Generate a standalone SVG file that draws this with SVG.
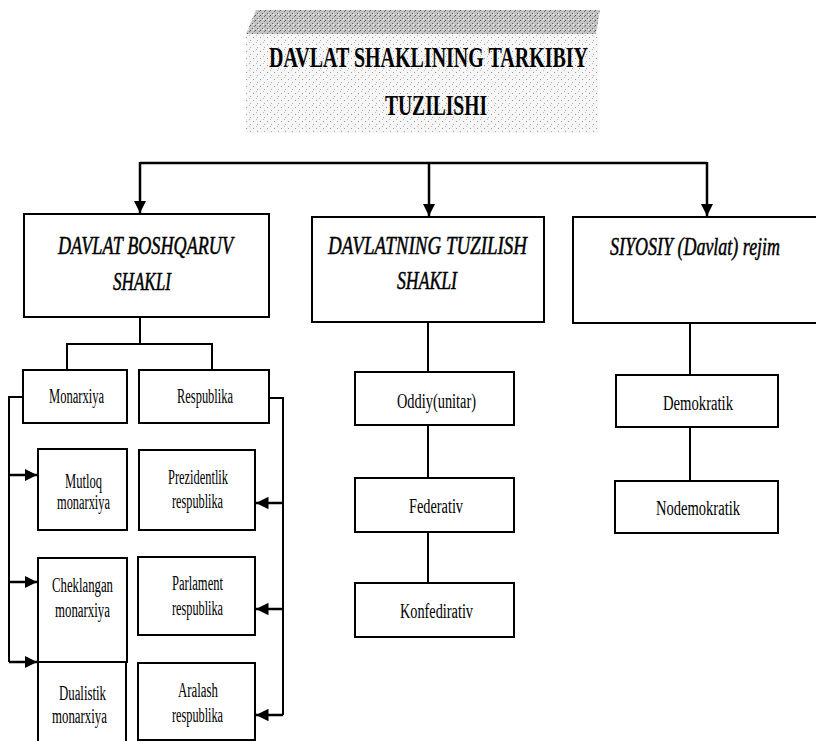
<svg xmlns="http://www.w3.org/2000/svg" width="816" height="741" viewBox="0 0 816 741">
<defs>
<style>
.box{fill:#fff;stroke:#000;stroke-width:2}
.ln{fill:none;stroke:#000;stroke-width:2}
.lnb{fill:none;stroke:#000;stroke-width:2.5}
.t{font-family:"Liberation Serif","Times New Roman","DejaVu Serif",serif;fill:#000}
.h{font-size:25px;font-style:italic;stroke:#000;stroke-width:0.5}
.s{font-size:20px}
.ttl{font-size:29px;font-weight:bold}
</style>
<pattern id="lite" width="7" height="7" patternUnits="userSpaceOnUse">
<rect width="7" height="7" fill="#f6f6f6"/>
<rect x="1" y="2" width="1" height="1" fill="#999"/>
<rect x="5" y="5" width="1" height="1" fill="#aaa"/>
<rect x="4" y="0" width="1" height="1" fill="#bbb"/>
</pattern>
<pattern id="dark" width="5" height="5" patternUnits="userSpaceOnUse">
<rect width="5" height="5" fill="#c4c4c4"/>
<rect x="0" y="0" width="1" height="1" fill="#555"/>
<rect x="2" y="3" width="1" height="1" fill="#666"/>
<rect x="4" y="1" width="1" height="1" fill="#777"/>
<rect x="3" y="4" width="1" height="1" fill="#fff"/>
</pattern>
<marker id="ad" viewBox="0 0 10 10" refX="10" refY="5" markerWidth="5" markerHeight="5" orient="auto" markerUnits="strokeWidth">
<path d="M0,0 L10,5 L0,10 z" fill="#000"/>
</marker>
</defs>

<g id="title">
<rect x="246" y="33" width="352" height="100" fill="url(#lite)"/>
<polygon points="256,10 600,10 596,34 246,34" fill="url(#dark)"/>
<text class="t ttl" x="269" y="67" textLength="319" lengthAdjust="spacingAndGlyphs">DAVLAT SHAKLINING TARKIBIY</text>
<text class="t ttl" x="385" y="115" font-size="27" textLength="102" lengthAdjust="spacingAndGlyphs">TUZILISHI</text>
</g>

<g id="connectors">
<path class="lnb" d="M140,163 H707"/>
<path class="lnb" d="M140,162 V213" marker-end="url(#ad)"/>
<path class="lnb" d="M429,162 V216" marker-end="url(#ad)"/>
<path class="lnb" d="M707,162 V216" marker-end="url(#ad)"/>
<path class="ln" d="M140,317 V344 M67,370 V344 H212 V370"/>
<path class="ln" d="M23,397 H9 V662"/>
<path class="lnb" d="M9,475 H37" marker-end="url(#ad)"/>
<path class="lnb" d="M9,582 H37" marker-end="url(#ad)"/>
<path class="lnb" d="M9,662 H37" marker-end="url(#ad)"/>
<path class="ln" d="M269,398 H283 V715"/>
<path class="lnb" d="M283,503 H256" marker-end="url(#ad)"/>
<path class="lnb" d="M283,609 H256" marker-end="url(#ad)"/>
<path class="lnb" d="M283,715 H256" marker-end="url(#ad)"/>
<path class="ln" d="M428,322 V372 M428,425 V478 M428,532 V583"/>
<path class="ln" d="M690,323 V375 M690,427 V481"/>
</g>

<g id="boshqaruv">
<rect class="box" x="24" y="214" width="245" height="103"/>
<text class="t h" x="58" y="254" textLength="175" lengthAdjust="spacingAndGlyphs">DAVLAT BOSHQARUV</text>
<text class="t h" x="113" y="290" textLength="58" lengthAdjust="spacingAndGlyphs">SHAKLI</text>
</g>
<g id="tuzilish">
<rect class="box" x="312" y="217" width="232" height="105"/>
<text class="t h" x="328" y="254" textLength="199" lengthAdjust="spacingAndGlyphs">DAVLATNING TUZILISH</text>
<text class="t h" x="397" y="289" textLength="60" lengthAdjust="spacingAndGlyphs">SHAKLI</text>
</g>
<g id="rejim">
<rect class="box" x="573" y="217" width="250" height="106"/>
<g transform="translate(610,255) scale(0.7,1)">
<text class="t h" x="0" y="0" textLength="243" lengthAdjust="spacingAndGlyphs">SIYOSIY (Davlat) rejim</text>
</g>
</g>

<g id="monarxiya">
<rect class="box" x="23" y="370" width="104" height="53"/>
<text class="t s" x="49" y="403" textLength="55" lengthAdjust="spacingAndGlyphs">Monarxiya</text>
</g>
<g id="respublika">
<rect class="box" x="139" y="370" width="130" height="53"/>
<text class="t s" x="177" y="403" textLength="56" lengthAdjust="spacingAndGlyphs">Respublika</text>
</g>
<g id="mutloq">
<rect class="box" x="38" y="449" width="89" height="81"/>
<text class="t s" x="65" y="488" textLength="37" lengthAdjust="spacingAndGlyphs">Mutloq</text>
<text class="t s" x="57" y="509" textLength="53" lengthAdjust="spacingAndGlyphs">monarxiya</text>
</g>
<g id="prezidentlik">
<rect class="box" x="139" y="450" width="116" height="80"/>
<text class="t s" x="168" y="484" textLength="60" lengthAdjust="spacingAndGlyphs">Prezidentlik</text>
<text class="t s" x="172" y="508" textLength="51" lengthAdjust="spacingAndGlyphs">respublika</text>
</g>
<g id="cheklangan">
<rect class="box" x="38" y="558" width="89" height="104"/>
<text class="t s" x="52" y="592" textLength="61" lengthAdjust="spacingAndGlyphs">Cheklangan</text>
<text class="t s" x="55" y="617" textLength="55" lengthAdjust="spacingAndGlyphs">monarxiya</text>
</g>
<g id="parlament">
<rect class="box" x="138" y="557" width="117" height="78"/>
<text class="t s" x="172" y="590" textLength="51" lengthAdjust="spacingAndGlyphs">Parlament</text>
<text class="t s" x="172" y="615" textLength="51" lengthAdjust="spacingAndGlyphs">respublika</text>
</g>
<g id="dualistik">
<rect class="box" x="38" y="662" width="88" height="90"/>
<text class="t s" x="59" y="700" textLength="47" lengthAdjust="spacingAndGlyphs">Dualistik</text>
<text class="t s" x="52" y="723" textLength="55" lengthAdjust="spacingAndGlyphs">monarxiya</text>
</g>
<g id="aralash">
<rect class="box" x="138" y="663" width="117" height="77"/>
<text class="t s" x="178" y="697" textLength="40" lengthAdjust="spacingAndGlyphs">Aralash</text>
<text class="t s" x="172" y="722" textLength="51" lengthAdjust="spacingAndGlyphs">respublika</text>
</g>

<g id="oddiy">
<rect class="box" x="355" y="372" width="159" height="53"/>
<text class="t s" x="397" y="408" textLength="79" lengthAdjust="spacingAndGlyphs">Oddiy(unitar)</text>
</g>
<g id="federativ">
<rect class="box" x="355" y="478" width="159" height="54"/>
<text class="t s" x="409" y="513" textLength="54" lengthAdjust="spacingAndGlyphs">Federativ</text>
</g>
<g id="konfedirativ">
<rect class="box" x="355" y="583" width="159" height="54"/>
<text class="t s" x="400" y="618" textLength="73" lengthAdjust="spacingAndGlyphs">Konfedirativ</text>
</g>

<g id="demokratik">
<rect class="box" x="616" y="375" width="162" height="52"/>
<text class="t s" x="663" y="410" textLength="70" lengthAdjust="spacingAndGlyphs">Demokratik</text>
</g>
<g id="nodemokratik">
<rect class="box" x="615" y="481" width="163" height="52"/>
<text class="t s" x="656" y="515" textLength="84" lengthAdjust="spacingAndGlyphs">Nodemokratik</text>
</g>
</svg>
